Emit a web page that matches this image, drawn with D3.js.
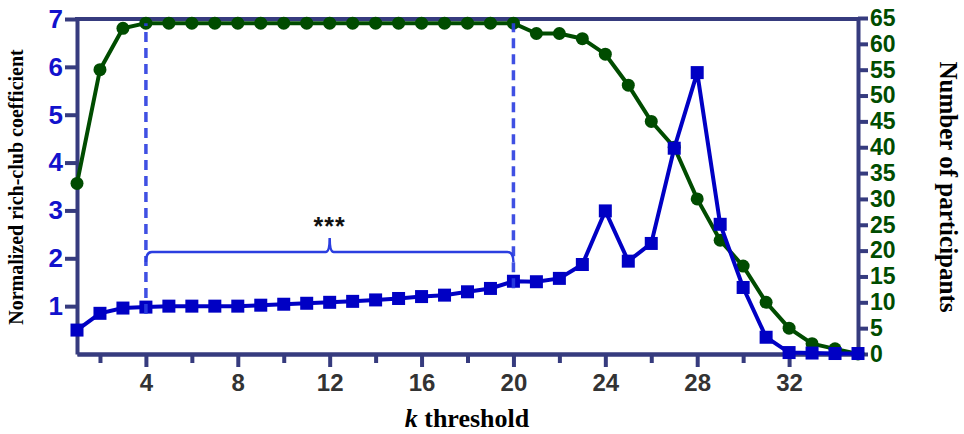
<!DOCTYPE html>
<html>
<head>
<meta charset="utf-8">
<script src="https://cdn.jsdelivr.net/npm/d3@7"></script>
<style>
  body { margin: 0; background: #fff; }
  svg { display: block; }
</style>
</head>
<body>
<svg id="chart"></svg>
<script>
var width = 964;
var height = 434;

// k threshold values
var kValues = [1,2,3,4,5,6,7,8,9,10,11,12,13,14,15,16,17,18,19,20,21,22,23,24,25,26,27,28,29,30,31,32,33,34,35];
// normalized rich-club coefficient (left axis)
var richClub = [0.50,0.85,0.96,0.98,1.00,1.00,1.00,1.00,1.02,1.04,1.06,1.08,1.10,1.13,1.16,1.20,1.23,1.30,1.37,1.52,1.51,1.58,1.87,2.99,1.94,2.31,4.30,5.88,2.71,1.39,0.35,0.03,0.02,0.01,0.01];
// number of participants (right axis)
var participants = [33,55,63,64,64,64,64,64,64,64,64,64,64,64,64,64,64,64,64,64,62,62,61,58,52,45,40,30,22,17,10,5,2,1,0];

var leftTicks = [1,2,3,4,5,6,7];
var rightTicks = [0,5,10,15,20,25,30,35,40,45,50,55,60,65];
var xMajorTicks = [4,8,12,16,20,24,28,32];
var xMinorTicks = [2,6,10,14,18,22,26,30];

// significance bracket
var bracketFrom = 4;
var bracketTo = 20;
var bracketLevel = 2.13;
var bracketLabel = "***";

var axisColor = "#363b7e";
var blue = "#0000c4";
var green = "#004c00";
var dashBlue = "#2b3ee0";

var svg = d3.select("#chart").attr("width", width).attr("height", height);

var x = d3.scaleLinear().domain([1, 35]).range([77, 858]);
var yL = d3.scaleLinear().domain([0, 7]).range([354, 19]);
var yR = d3.scaleLinear().domain([0, 65]).range([354, 18]);

function styleAxis(g, color, size, weight) {
    g.selectAll("path.domain").attr("stroke", axisColor).attr("stroke-width", 4);
    g.selectAll(".tick line").attr("stroke", axisColor).attr("stroke-width", 4);
    g.selectAll(".tick text")
      .attr("fill", color)
      .style("font-family", "'Liberation Sans', Arial, sans-serif")
      .style("font-size", size + "px")
      .style("font-weight", weight);
}

// top frame line
svg.append("line")
  .attr("x1", x(1) - 2).attr("x2", x(35) + 2)
  .attr("y1", yL(7)).attr("y2", yL(7))
  .attr("stroke", axisColor).attr("stroke-width", 4);

// bottom axis: minor then major ticks
var gxMinor = svg.append("g")
  .attr("transform", "translate(0," + yL(0) + ")")
  .call(d3.axisBottom(x).tickValues(xMinorTicks).tickSize(9).tickSizeOuter(0).tickFormat(""));
styleAxis(gxMinor, "#333", 24, "bold");

var gx = svg.append("g")
  .attr("transform", "translate(0," + yL(0) + ")")
  .call(d3.axisBottom(x).tickValues(xMajorTicks).tickSize(13).tickSizeOuter(0).tickPadding(7));
styleAxis(gx, "#333", 24, "bold");

// left axis
var gl = svg.append("g")
  .attr("transform", "translate(" + x(1) + ",0)")
  .call(d3.axisLeft(yL).tickValues(leftTicks).tickFormat(d3.format("d")).tickSize(12).tickSizeOuter(0).tickPadding(2));
styleAxis(gl, "#1212cc", 26, "bold");

// right axis
var gr = svg.append("g")
  .attr("transform", "translate(" + x(35) + ",0)")
  .call(d3.axisRight(yR).tickValues(rightTicks).tickSize(10).tickSizeOuter(0).tickPadding(2));
styleAxis(gr, green, 23, "bold");

// participants line (green)
var greenLine = d3.line()
  .x(function(d, i) { return x(kValues[i]); })
  .y(function(d) { return yR(d); });

svg.append("path")
  .datum(participants)
  .attr("d", greenLine)
  .attr("fill", "none")
  .attr("stroke", green)
  .attr("stroke-width", 4);

svg.selectAll(".dot")
  .data(participants)
  .enter()
  .append("circle")
  .attr("cx", function(d, i) { return x(kValues[i]); })
  .attr("cy", function(d) { return yR(d); })
  .attr("r", 6.5)
  .attr("fill", green);

// rich-club line (blue)
var blueLine = d3.line()
  .x(function(d, i) { return x(kValues[i]); })
  .y(function(d) { return yL(d); });

svg.append("path")
  .datum(richClub)
  .attr("d", blueLine)
  .attr("fill", "none")
  .attr("stroke", blue)
  .attr("stroke-width", 4);

var sq = 13;
svg.selectAll(".sq")
  .data(richClub)
  .enter()
  .append("rect")
  .attr("x", function(d, i) { return x(kValues[i]) - sq / 2; })
  .attr("y", function(d) { return yL(d) - sq / 2; })
  .attr("width", sq)
  .attr("height", sq)
  .attr("fill", blue);

// dashed verticals at the bracket ends
[bracketFrom, bracketTo].forEach(function(k) {
    var i = kValues.indexOf(k);
    svg.append("line")
      .attr("x1", x(k)).attr("x2", x(k))
      .attr("y1", yL(richClub[i]) + 7)
      .attr("y2", yR(participants[i]))
      .attr("stroke", dashBlue)
      .attr("stroke-width", 3.5)
      .attr("stroke-dasharray", "10,6")
      .attr("opacity", 0.9);
});

// bracket with a small peak in the middle
var bx0 = x(bracketFrom), bx1 = x(bracketTo), by = yL(bracketLevel);
var bm = (bx0 + bx1) / 2;
var p = d3.path();
p.moveTo(bx0, by + 10);
p.quadraticCurveTo(bx0, by, bx0 + 6, by);
p.lineTo(bm - 4, by);
p.quadraticCurveTo(bm, by, bm, by - 14);
p.quadraticCurveTo(bm, by, bm + 4, by);
p.lineTo(bx1 - 6, by);
p.quadraticCurveTo(bx1, by, bx1, by + 10);
svg.append("path")
  .attr("d", p.toString())
  .attr("fill", "none")
  .attr("stroke", dashBlue)
  .attr("stroke-width", 2.5);

svg.append("text")
  .attr("x", bm)
  .attr("y", by - 17)
  .attr("text-anchor", "middle")
  .style("font-family", "'Liberation Sans', Arial, sans-serif")
  .style("font-size", "25px")
  .style("font-weight", "bold")
  .style("letter-spacing", "1px")
  .attr("fill", "#111")
  .text(bracketLabel);

// axis titles
var serif = "'Liberation Serif', 'Times New Roman', serif";
svg.append("text")
  .attr("transform", "translate(23," + 187 + ") rotate(-90)")
  .attr("text-anchor", "middle")
  .style("font-family", serif)
  .style("font-weight", "bold")
  .style("font-size", "20px")
  .text("Normalized rich-club coefficient");

svg.append("text")
  .attr("transform", "translate(940," + 187 + ") rotate(90)")
  .attr("text-anchor", "middle")
  .style("font-family", serif)
  .style("font-weight", "bold")
  .style("font-size", "25px")
  .text("Number of participants");

var xt = svg.append("text")
  .attr("x", 467)
  .attr("y", 427)
  .attr("text-anchor", "middle")
  .style("font-family", serif)
  .style("font-weight", "bold")
  .style("font-size", "26px");
xt.append("tspan").style("font-style", "italic").text("k");
xt.append("tspan").text(" threshold");
</script>
</body>
</html>
